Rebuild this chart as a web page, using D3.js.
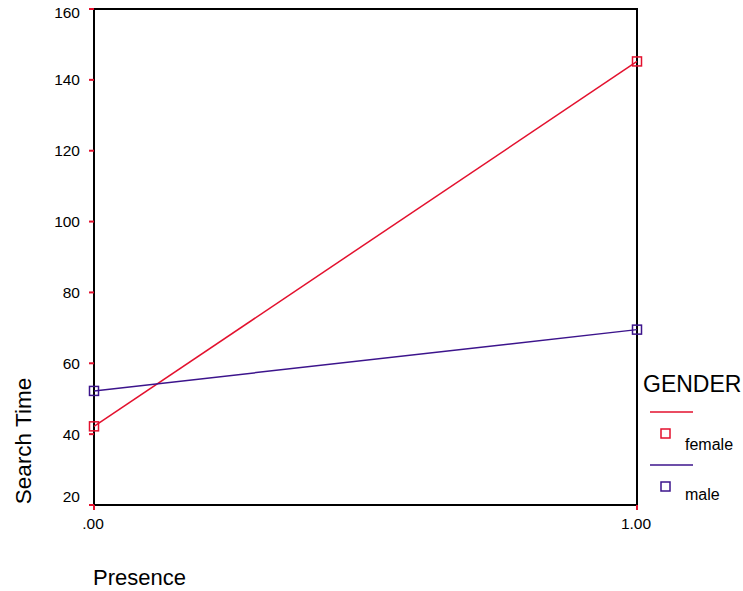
<!DOCTYPE html>
<html>
<head>
<meta charset="utf-8">
<script src="https://cdn.jsdelivr.net/npm/d3@7"></script>
<style>
body { margin: 0; background: #fff; }
text { font-family: "Liberation Sans", Arial, sans-serif; }
</style>
</head>
<body>
<script>
var w = 743;
var h = 591;

// data
var presence = [0, 1];
var xTickLabels = [".00", "1.00"];
var yTicks = [20, 40, 60, 80, 100, 120, 140, 160];
var femaleValues = [42.2, 145.2];
var maleValues = [52.2, 69.5];
var seriesNames = ["female", "male"];
var seriesColors = ["#e3112e", "#3c148c"];

var plotLeft = 94, plotRight = 637, plotTop = 9, plotBottom = 505;

var svg = d3.select("body")
            .append("svg")
            .attr("width", w)
            .attr("height", h);

var xScale = d3.scaleLinear().domain([0, 1]).range([plotLeft, plotRight]);
var yScale = d3.scaleLinear().domain([20, 160]).range([plotBottom, plotTop]);

// frame
svg.append("rect")
   .attr("x", plotLeft).attr("y", plotTop)
   .attr("width", plotRight - plotLeft).attr("height", plotBottom - plotTop)
   .attr("fill", "none").attr("stroke", "#000").attr("stroke-width", 2);

// y ticks (red) and labels
svg.selectAll(".ytick")
   .data(yTicks)
   .enter().append("line")
   .attr("x1", plotLeft - 5).attr("x2", plotLeft)
   .attr("y1", function(d) { return yScale(d); })
   .attr("y2", function(d) { return yScale(d); })
   .attr("stroke", "#e3112e").attr("stroke-width", 2);

svg.selectAll(".ylab")
   .data(yTicks)
   .enter().append("text")
   .attr("x", plotLeft - 14)
   .attr("y", function(d) {
       var y = yScale(d);
       y = Math.max(12, Math.min(496, y)); // keep end labels inside
       return y + 5.5;
   })
   .attr("text-anchor", "end")
   .attr("font-size", 15.5)
   .text(function(d) { return d; });

// x ticks and labels
svg.selectAll(".xtick")
   .data(presence)
   .enter().append("line")
   .attr("x1", function(d) { return xScale(d); })
   .attr("x2", function(d) { return xScale(d); })
   .attr("y1", plotBottom).attr("y2", plotBottom + 5)
   .attr("stroke", "#e3112e").attr("stroke-width", 2);

svg.selectAll(".xlab")
   .data(presence)
   .enter().append("text")
   .attr("x", function(d) { return xScale(d) - 1; })
   .attr("y", 529)
   .attr("text-anchor", "middle")
   .attr("font-size", 15.5)
   .text(function(d, i) { return xTickLabels[i]; });

// axis titles
svg.append("text")
   .attr("x", 93).attr("y", 585)
   .attr("font-size", 22)
   .text("Presence");

svg.append("text")
   .attr("transform", "translate(31,441) rotate(-90)")
   .attr("text-anchor", "middle")
   .attr("font-size", 22.5)
   .text("Search Time");

// lines and markers
var allSeries = [femaleValues, maleValues];
var line = d3.line()
             .x(function(d, i) { return xScale(presence[i]); })
             .y(function(d) { return yScale(d); });

allSeries.forEach(function(vals, k) {
    svg.append("path")
       .attr("d", line(vals))
       .attr("fill", "none")
       .attr("stroke", seriesColors[k])
       .attr("stroke-width", 1.5);
    svg.selectAll(".m" + k)
       .data(vals)
       .enter().append("rect")
       .attr("class", "m" + k)
       .attr("x", function(d, i) { return xScale(presence[i]) - 4.5; })
       .attr("y", function(d) { return yScale(d) - 4.5; })
       .attr("width", 9).attr("height", 9)
       .attr("fill", "none")
       .attr("stroke", seriesColors[k])
       .attr("stroke-width", 1.5);
});

// legend
svg.append("text")
   .attr("x", 643).attr("y", 392)
   .attr("font-size", 23)
   .text("GENDER");

seriesNames.forEach(function(name, k) {
    var y0 = 412 + k * 53;
    svg.append("line")
       .attr("x1", 650).attr("x2", 693)
       .attr("y1", y0).attr("y2", y0)
       .attr("stroke", seriesColors[k]).attr("stroke-width", 1.5);
    svg.append("rect")
       .attr("x", 661).attr("y", y0 + 17)
       .attr("width", 9).attr("height", 9)
       .attr("fill", "none")
       .attr("stroke", seriesColors[k]).attr("stroke-width", 1.5);
    svg.append("text")
       .attr("x", 685).attr("y", y0 + 38 - k * 3)
       .attr("font-size", 16)
       .text(name);
});
</script>
</body>
</html>
